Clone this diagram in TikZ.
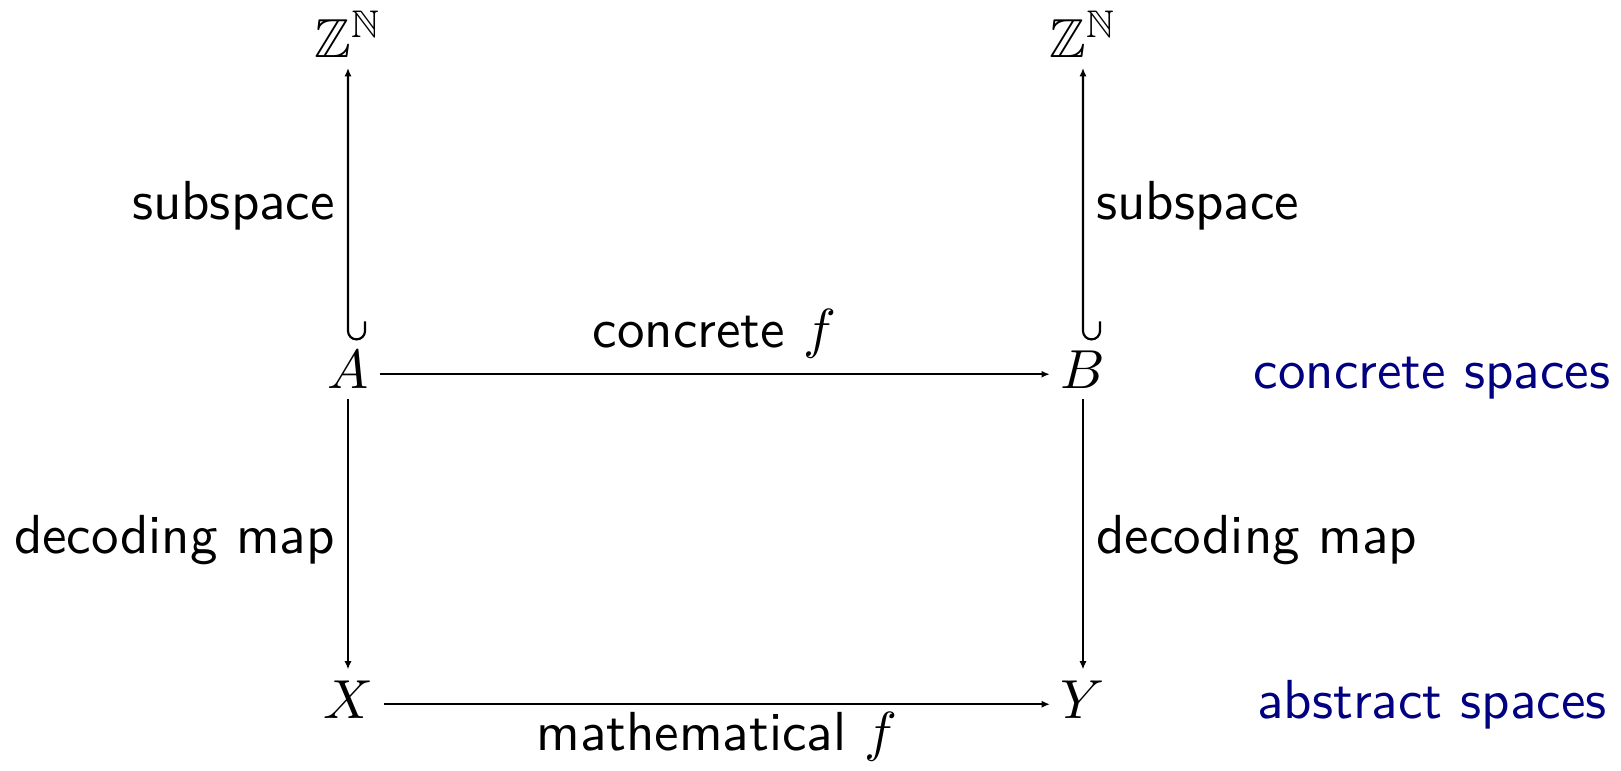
\documentclass[tikz,border=0pt]{standalone}
\usepackage{amssymb}
\usetikzlibrary{arrows.meta}
\definecolor{navyblue}{RGB}{0,0,128}
\begin{document}
\begin{tikzpicture}[x=0.1818pt,y=-0.1818pt,
  obj/.style={inner sep=1.8pt, anchor=base},
  arr/.style={line width=0.4pt, -{Latex[length=1.5pt,width=1.3pt]}},
  lbl/.style={font=\sffamily, inner sep=2.2pt},
  side/.style={font=\sffamily, text=navyblue, anchor=base}]
\useasboundingbox (0,0) rectangle (1621,770);
\node[obj] (Z1) at (348,57) {$\mathbb{Z}^{\mathbb{N}}$};
\node[obj] (Z2) at (1083,57) {$\mathbb{Z}^{\mathbb{N}}$};
\node[obj] (A) at (348,388) {$A$};
\node[obj] (B) at (1083,388) {$B$};
\node[obj] (X) at (348,718) {$X$};
\node[obj] (Y) at (1083,718) {$Y$};
\node[side] (cs) at (1432,388) {concrete spaces};
\node[side] (as) at (1432,718) {abstract spaces};
\draw[arr] ([xshift=3.1pt,yshift=3.3pt]A.north) -- ([xshift=3.1pt,yshift=1.55pt]A.north)
  arc[start angle=0,end angle=-180,radius=1.55pt] -- node[lbl,left,yshift=-1.2pt] {subspace} (Z1.south);
\draw[arr] ([xshift=3.1pt,yshift=3.3pt]B.north) -- ([xshift=3.1pt,yshift=1.55pt]B.north)
  arc[start angle=0,end angle=-180,radius=1.55pt] -- node[lbl,right,yshift=-1.2pt] {subspace} (Z2.south);
\draw[arr] ([yshift=2.5pt]A.base east) -- node[lbl,above,inner sep=2.7pt] {concrete $f$} ([yshift=2.5pt]B.base west);
\draw[arr] (A.south) -- node[lbl,left,yshift=-1pt] {decoding map} (X.north);
\draw[arr] (B.south) -- node[lbl,right,yshift=-1pt] {decoding map} (Y.north);
\draw[arr] ([yshift=2.5pt]X.base east) -- node[lbl,below,inner sep=1.2pt] {mathematical $f$} ([yshift=2.5pt]Y.base west);
\end{tikzpicture}
\end{document}
